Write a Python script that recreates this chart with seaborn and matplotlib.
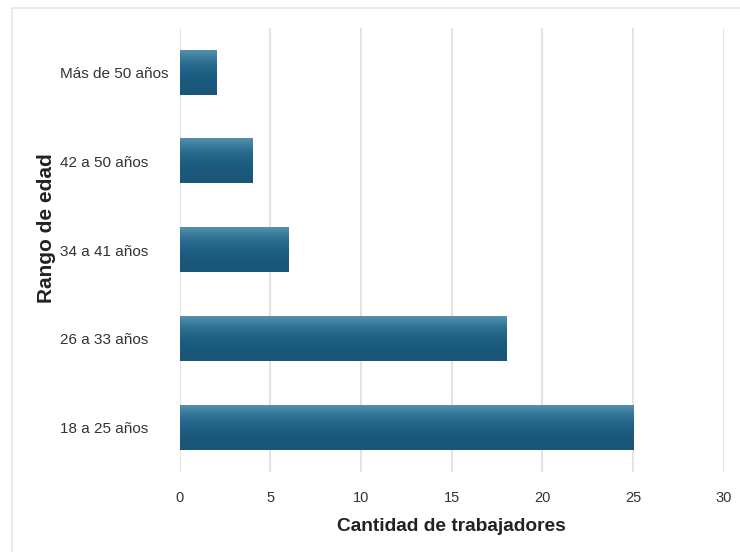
import numpy as np
import pandas as pd
import matplotlib
matplotlib.use("Agg")
import matplotlib.pyplot as plt
from matplotlib.colors import LinearSegmentedColormap
from matplotlib.patches import Rectangle
import seaborn as sns

# datos
rangos = ["Más de 50 años", "42 a 50 años", "34 a 41 años", "26 a 33 años", "18 a 25 años"]
trabajadores = [2, 4, 6, 18, 25]
ticks_x = [0, 5, 10, 15, 20, 25, 30]

df = pd.DataFrame({"rango": rangos, "n": trabajadores})

sns.set_style("white")
plt.rcParams["font.family"] = ["Liberation Sans", "DejaVu Sans"]

fig = plt.figure(figsize=(7.4, 5.52), dpi=100)
ax = fig.add_axes([0.243, 0.145, 0.735, 0.804])

ax = sns.barplot(data=df, y="rango", x="n", orient="h", color="#1e5f82",
                 width=0.5, ax=ax)

# degradado vertical en cada barra (claro arriba, oscuro abajo)
cmap = LinearSegmentedColormap.from_list(
    "barra", ["#5290ac", "#2f7093", "#1d6084", "#1a587b", "#1a5677"])
grad = np.linspace(0, 1, 64).reshape(-1, 1)
for p in list(ax.patches):
    x0, y0 = p.get_x(), p.get_y()
    w, h = p.get_width(), p.get_height()
    ax.imshow(grad, cmap=cmap, aspect="auto", origin="upper",
              extent=(x0, x0 + w, y0 + h, y0), zorder=3)
    p.set_facecolor("none")
    p.set_edgecolor("none")

ax.set_xlim(0, 30)
ax.set_ylim(4.5, -0.5)
ax.set_xticks(ticks_x)
ax.grid(axis="x", color="#e3e3e3", linewidth=1.5, zorder=0)
ax.set_axisbelow(True)
for s in ax.spines.values():
    s.set_visible(False)
ax.tick_params(axis="x", length=0, labelsize=10.5, labelcolor="#333333", pad=14)
# etiquetas de categoría alineadas a la izquierda
ax.tick_params(axis="y", length=0, labelsize=11, labelcolor="#333333", pad=86)
for t in ax.get_yticklabels():
    t.set_ha("left")

ax.set_xlabel("Cantidad de trabajadores", fontsize=13.8, fontweight="bold",
              color="#222222", labelpad=9)
ax.set_ylabel("Rango de edad", fontsize=15, fontweight="bold",
              color="#222222")
ax.yaxis.set_label_coords(-0.228, 0.55)

# borde gris claro del contenedor
fig.patches.append(Rectangle((12 / 740, -0.01), 1.0, 1 - 8 / 552 + 0.01,
                             transform=fig.transFigure, fill=False,
                             edgecolor="#e6e6e6", linewidth=1.2))

fig.savefig("out.png", dpi=100)
